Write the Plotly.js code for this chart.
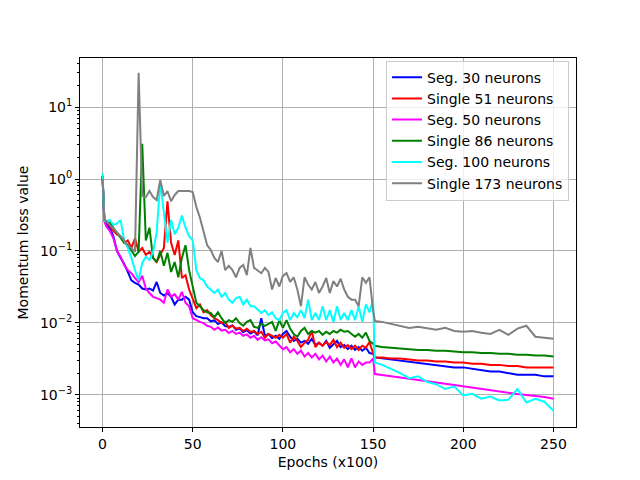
<!DOCTYPE html>
<html>
<head>
<meta charset="utf-8">
<script src="https://cdn.plot.ly/plotly-3.0.1.min.js"></script>
<style>
  html, body { margin: 0; padding: 0; background: #ffffff; }
  #main-screen { width: 640px; height: 480px; }
</style>
</head>
<body>
<div id="main-screen"></div>
<script>
// ------------------------------------------------------------------------------
// DATA

const epochs = [
    0, 1, 2, 4, 6, 8, 10, 12, 14, 16,
    18, 20, 22, 24, 26, 28, 30, 32, 34, 36,
    38, 40, 42, 44, 46, 48, 50, 52, 54, 56,
    58, 60, 62, 64, 66, 68, 70, 72, 74, 76,
    78, 80, 82, 84, 86, 88, 90, 92, 94, 96,
    98, 100, 102, 104, 106, 108, 110, 112, 114, 116,
    118, 120, 122, 124, 126, 128, 130, 132, 134, 136,
    138, 140, 142, 144, 146, 148, 150, 151,
    155, 160, 165, 170, 175, 180, 185, 190, 195, 200,
    205, 210, 215, 220, 225, 230, 235, 240, 245, 250
];

const seg30 = [
    1.1, 0.26, 0.24, 0.21, 0.16, 0.10, 0.080, 0.066, 0.051, 0.039,
    0.036, 0.034, 0.030, 0.029, 0.030, 0.028, 0.037, 0.026, 0.024, 0.026,
    0.023, 0.018, 0.021, 0.021, 0.023, 0.021, 0.014, 0.0124, 0.012, 0.0116,
    0.0116, 0.0105, 0.0108, 0.0096, 0.0102, 0.0090, 0.0088, 0.0092, 0.0080, 0.0084,
    0.0074, 0.0079, 0.0071, 0.0076, 0.0067, 0.0116, 0.0066, 0.0070, 0.0061, 0.0066,
    0.0060, 0.0070, 0.0077, 0.0064, 0.0056, 0.0060, 0.0053, 0.0056, 0.0051, 0.0060,
    0.0049, 0.0053, 0.0048, 0.0056, 0.0045, 0.0051, 0.0056, 0.0046, 0.0049, 0.0043,
    0.0048, 0.0042, 0.0046, 0.0041, 0.0045, 0.0038, 0.0037, 0.0033,
    0.0032, 0.0031, 0.0030, 0.0029, 0.0028, 0.0027, 0.0026, 0.0025, 0.0024, 0.0024,
    0.0023, 0.0022, 0.0021, 0.0021, 0.0020, 0.0019, 0.0019, 0.0019, 0.0018, 0.0018
];

const single51 = [
    1.1, 0.27, 0.26, 0.22, 0.19, 0.17, 0.16, 0.13, 0.14, 0.11,
    0.15, 0.097, 0.11, 0.088, 0.097, 0.080, 0.070, 0.088, 0.11, 0.49,
    0.13, 0.088, 0.14, 0.042, 0.046, 0.029, 0.021, 0.016, 0.018, 0.014,
    0.015, 0.0128, 0.0116, 0.0109, 0.0099, 0.0103, 0.0085, 0.0091, 0.0083, 0.0085,
    0.0077, 0.0083, 0.0075, 0.0077, 0.0070, 0.0075, 0.0062, 0.0070, 0.0066, 0.0062,
    0.0068, 0.0062, 0.0070, 0.0053, 0.0064, 0.0056, 0.0046, 0.0053, 0.0058, 0.0077,
    0.0046, 0.0053, 0.0048, 0.0054, 0.0049, 0.0058, 0.0046, 0.0053, 0.0045, 0.0049,
    0.0043, 0.0048, 0.0042, 0.0048, 0.0045, 0.0054, 0.0038, 0.0033,
    0.0033, 0.0032, 0.0032, 0.0031, 0.0030, 0.0030, 0.0029, 0.0029, 0.0028, 0.0028,
    0.0027, 0.0027, 0.0026, 0.0026, 0.0025, 0.0025, 0.0024, 0.0024, 0.0024, 0.0024
];

const seg50 = [
    1.1, 0.26, 0.22, 0.19, 0.15, 0.10, 0.083, 0.063, 0.054, 0.049,
    0.042, 0.037, 0.045, 0.030, 0.026, 0.023, 0.022, 0.021, 0.019, 0.029,
    0.023, 0.025, 0.021, 0.027, 0.019, 0.017, 0.0116, 0.0109, 0.0103, 0.0099,
    0.0091, 0.0088, 0.0080, 0.0086, 0.0078, 0.0080, 0.0072, 0.0077, 0.0070, 0.0073,
    0.0066, 0.0069, 0.0062, 0.0066, 0.0058, 0.0063, 0.0057, 0.0059, 0.0052, 0.0055,
    0.0048, 0.0043, 0.0046, 0.0039, 0.0043, 0.0037, 0.0041, 0.0034, 0.0038, 0.0033,
    0.0037, 0.0031, 0.0035, 0.0029, 0.0034, 0.0028, 0.0032, 0.0026, 0.0031, 0.0024,
    0.0032, 0.0024, 0.0029, 0.0026, 0.0028, 0.0028, 0.0032, 0.00194,
    0.00188, 0.0018, 0.00174, 0.00166, 0.0016, 0.00154, 0.00148, 0.00142, 0.00137, 0.00131,
    0.00126, 0.0012, 0.00116, 0.00111, 0.00107, 0.00102, 0.00099, 0.00096, 0.00093, 0.00088
];

const single86 = [
    1.1, 0.27, 0.26, 0.25, 0.21, 0.18, 0.15, 0.13, 0.12, 0.10,
    0.085, 0.097, 3.1, 0.14, 0.21, 0.080, 0.070, 0.10, 0.062, 0.094,
    0.051, 0.070, 0.043, 0.080, 0.12, 0.054, 0.032, 0.019, 0.017, 0.015,
    0.014, 0.0137, 0.012, 0.014, 0.0116, 0.0099, 0.0109, 0.0103, 0.0116, 0.0099,
    0.0091, 0.0103, 0.0109, 0.0088, 0.0085, 0.0097, 0.0091, 0.0097, 0.0103, 0.0077,
    0.0109, 0.0085, 0.0109, 0.0083, 0.0070, 0.0064, 0.0077, 0.0085, 0.0070, 0.0077,
    0.0073, 0.0077, 0.0068, 0.0075, 0.0070, 0.0077, 0.0073, 0.0080, 0.0075, 0.0077,
    0.0070, 0.0064, 0.0070, 0.0062, 0.0073, 0.0056, 0.0051, 0.0048,
    0.0046, 0.0045, 0.0045, 0.0043, 0.0042, 0.0042, 0.0041, 0.0041, 0.0040, 0.0039,
    0.0039, 0.0038, 0.0038, 0.0037, 0.0037, 0.0036, 0.0036, 0.0035, 0.0035, 0.0034
];

const seg100 = [
    1.2, 0.26, 0.26, 0.27, 0.23, 0.24, 0.27, 0.14, 0.11, 0.080,
    0.054, 0.039, 0.068, 0.083, 0.075, 0.097, 0.18, 0.91, 0.34, 0.13,
    0.27, 0.17, 0.21, 0.31, 0.21, 0.16, 0.14, 0.054, 0.042, 0.039,
    0.032, 0.029, 0.026, 0.029, 0.023, 0.026, 0.021, 0.019, 0.022, 0.023,
    0.018, 0.021, 0.017, 0.017, 0.015, 0.0137, 0.015, 0.0128, 0.014, 0.0116,
    0.0109, 0.0137, 0.015, 0.0109, 0.0137, 0.012, 0.015, 0.0116, 0.021, 0.0109,
    0.0137, 0.0109, 0.017, 0.0109, 0.015, 0.0103, 0.017, 0.0109, 0.0137, 0.0109,
    0.015, 0.0109, 0.017, 0.0103, 0.018, 0.014, 0.021, 0.0028,
    0.0026, 0.0023, 0.0020, 0.0017, 0.0018, 0.0015, 0.0014, 0.0012, 0.0013, 0.00098,
    0.00103, 0.00088, 0.00094, 0.00083, 0.00085, 0.0012, 0.00078, 0.00088, 0.0008, 0.0006
];

const single173 = [
    1.0, 0.27, 0.26, 0.23, 0.21, 0.18, 0.16, 0.14, 0.12, 0.11,
    0.097, 30, 0.58, 0.56, 0.68, 0.56, 0.51, 0.97, 0.58, 0.68,
    0.49, 0.60, 0.68, 0.68, 0.68, 0.68, 0.66, 0.41, 0.29, 0.18,
    0.12, 0.103, 0.080, 0.070, 0.10, 0.054, 0.062, 0.054, 0.043, 0.058,
    0.064, 0.046, 0.11, 0.058, 0.054, 0.049, 0.058, 0.051, 0.029, 0.042,
    0.032, 0.045, 0.049, 0.037, 0.043, 0.029, 0.017, 0.043, 0.034, 0.029,
    0.037, 0.026, 0.032, 0.042, 0.026, 0.038, 0.032, 0.041, 0.029, 0.023,
    0.021, 0.021, 0.017, 0.043, 0.036, 0.043, 0.015, 0.0106,
    0.0103, 0.0097, 0.0091, 0.0085, 0.0088, 0.0083, 0.0080, 0.0085, 0.0077, 0.0075,
    0.0077, 0.0073, 0.0070, 0.0080, 0.0068, 0.0083, 0.0091, 0.0064, 0.0062, 0.0060
];

const seriesNames = [
    'Seg. 30 neurons', 'Single 51 neurons', 'Seg. 50 neurons',
    'Single 86 neurons', 'Seg. 100 neurons', 'Single 173 neurons'
];

const yTickVals = [0.001, 0.01, 0.1, 1, 10];
const yTickText = ['10<sup>\u22123</sup>', '10<sup>\u22122</sup>', '10<sup>\u22121</sup>',
                   '10<sup>0</sup>', '10<sup>1</sup>'];

// ------------------------------------------------------------------------------
// PARAMETERS

const font_family = '"DejaVu Sans", Verdana, sans-serif';
const colors = ['#0000ff', '#ff0000', '#ff00ff', '#008000', '#00ffff', '#808080'];
const grid_color = '#b0b0b0';

// minor ticks at 2..9 x 10^n, like matplotlib's log locator
const minorVals = [];
for (let p = -4; p <= 1; p++) {
    for (let m = 2; m <= 9; m++) {
        minorVals.push(m * Math.pow(10, p));
    }
}

// ------------------------------------------------------------------------------
// PLOT

const allSeries = [seg30, single51, seg50, single86, seg100, single173];

const traces = allSeries.map((vals, i) => ({
    x: epochs,
    y: vals,
    name: seriesNames[i],
    mode: 'lines',
    type: 'scatter',
    line: { color: colors[i], width: 2 },
    hoverinfo: 'none'
}));

const layout = {
    width : 640,
    height: 480,
    paper_bgcolor: '#ffffff',
    plot_bgcolor : '#ffffff',
    font: { family: font_family, size: 14, color: '#000000' },
    margin: { l: 80, r: 64, t: 58, b: 53, pad: 0 },
    showlegend: true,
    legend: {
        x: 0.986,
        y: 0.993,
        xanchor: 'right',
        yanchor: 'top',
        bgcolor: 'rgba(255,255,255,0.8)',
        bordercolor: '#cccccc',
        borderwidth: 1,
        itemwidth: 30,
        tracegroupgap: 0,
        font: { family: font_family, size: 14, color: '#000000' }
    },
    xaxis: {
        range: [-12.5, 262.5],
        autorange: false,
        tickmode: 'linear',
        tick0: 0,
        dtick: 50,
        ticks: 'outside',
        ticklen: 4,
        tickwidth: 1,
        tickcolor: '#000000',
        showline: true,
        linecolor: '#000000',
        linewidth: 1,
        mirror: true,
        showgrid: true,
        gridcolor: grid_color,
        gridwidth: 1,
        zeroline: false,
        title: { text: 'Epochs (x100)', font: { family: font_family, size: 14 }, standoff: 6 }
    },
    yaxis: {
        type: 'log',
        range: [-3.449, 1.683],
        autorange: false,
        tickmode: 'array',
        tickvals: yTickVals,
        ticktext: yTickText,
        ticks: 'outside',
        ticklen: 4,
        tickwidth: 1,
        tickcolor: '#000000',
        showline: true,
        linecolor: '#000000',
        linewidth: 1,
        mirror: true,
        showgrid: true,
        gridcolor: grid_color,
        gridwidth: 1,
        zeroline: false,
        minor: {
            tickmode: 'array',
            tickvals: minorVals,
            ticks: 'outside',
            ticklen: 2,
            tickwidth: 1,
            tickcolor: '#000000',
            showgrid: false
        },
        title: { text: 'Momentum loss value', font: { family: font_family, size: 14 }, standoff: 8 }
    }
};

Plotly.newPlot('main-screen', traces, layout, { displayModeBar: false, staticPlot: true });
</script>
</body>
</html>
